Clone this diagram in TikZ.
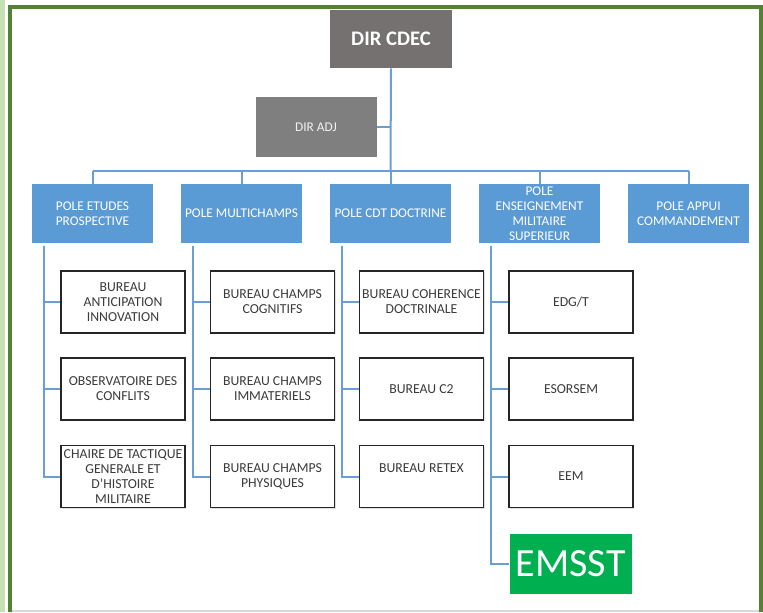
\documentclass[tikz,border=0pt]{standalone}
\usepackage{fontspec}
\setmainfont{Carlito}
\usepackage{tikz}
\usetikzlibrary{positioning,calc,shadows}

\definecolor{dirgray}{HTML}{767171}
\definecolor{adjgray}{HTML}{7F7F7F}
\definecolor{poleblue}{HTML}{5B9BD5}
\definecolor{linkblue}{HTML}{6A9FD6}
\definecolor{emsgreen}{HTML}{00B050}
\definecolor{framegreen}{HTML}{548235}
\definecolor{palegreen}{HTML}{C5E0B4}
\definecolor{subtext}{HTML}{3B3B3B}

\begin{document}
\begin{tikzpicture}[
  x=0.75pt, y=-0.75pt,
  dirbox/.style={fill=dirgray, text=white, minimum width=91.5pt, minimum height=43.5pt, inner sep=0pt, font=\fontsize{15.5}{18}\selectfont\bfseries},
  adjbox/.style={fill=adjgray, text=white!95!black, minimum width=90.75pt, minimum height=45pt, inner sep=0pt, font=\fontsize{10}{11.25}\selectfont},
  pole/.style={fill=poleblue, text=white, minimum width=90.75pt, minimum height=44.25pt, inner sep=0pt, align=center, font=\fontsize{10}{11.25}\selectfont},
  sub/.style={draw=black!85, line width=1pt, fill=white, text=subtext, minimum width=93pt, minimum height=46.5pt, inner sep=0pt, align=center, font=\fontsize{10.3}{11.25}\selectfont, drop shadow={shadow xshift=0.8pt, shadow yshift=-0.8pt, opacity=0.25}},
  emsbox/.style={fill=emsgreen, text=white, minimum width=91.5pt, minimum height=45pt, inner sep=0pt, font=\fontsize{30}{32}\selectfont},
  link/.style={draw=linkblue, line width=1.5pt}
]
\useasboundingbox (0,0) rectangle (763,612);

% frame
\fill[palegreen] (0,0) rectangle (4.5,612);
\fill[framegreen] (7.5,5) rectangle (11.5,612);
\fill[framegreen] (7.5,4.5) rectangle (763,8.5);
\fill[framegreen] (759,4.5) rectangle (763,612);
\fill[black!15] (11.5,609.5) rectangle (759,612);

% direction
\node[dirbox] (dir) at (391,39) {DIR CDEC};
\node[adjbox] (adj) at (316,127) {DIR ADJ};

% poles
\node[pole] (pe) at (92.5,213.5) {POLE ETUDES\\PROSPECTIVE};
\node[pole] (pm) at (241.5,213.5) {POLE MULTICHAMPS};
\node[pole] (pc) at (390.5,213.5) {POLE CDT DOCTRINE};
\node[pole] (ps) at (539.5,213.5) {POLE\\ENSEIGNEMENT\\MILITAIRE\\SUPERIEUR};
\node[pole] (pa) at (688.5,213.5) {POLE APPUI\\COMMANDEMENT};

% bureaux
\node[sub] (pe1) at (123,302) {BUREAU\\ANTICIPATION\\INNOVATION};
\node[sub] (pe2) at (123,389) {OBSERVATOIRE DES\\CONFLITS};
\node[sub] (pe3) at (123,476.5) {CHAIRE DE TACTIQUE\\GENERALE ET\\D’HISTOIRE\\MILITAIRE};

\node[sub] (pm1) at (272.5,302) {BUREAU CHAMPS\\COGNITIFS};
\node[sub] (pm2) at (272.5,389) {BUREAU CHAMPS\\IMMATERIELS};
\node[sub] (pm3) at (272.5,476.5) {BUREAU CHAMPS\\PHYSIQUES};

\node[sub] (pc1) at (421.5,302) {BUREAU COHERENCE\\DOCTRINALE};
\node[sub] (pc2) at (421.5,389) {BUREAU C2};
\node[sub] (pc3) at (421.5,476.5) {BUREAU RETEX\\[2pt]\mbox{}};

\node[sub] (ps1) at (571,302) {EDG/T};
\node[sub] (ps2) at (571,389) {ESORSEM};
\node[sub] (ps3) at (571,476.5) {EEM};
\node[emsbox] (ps4) at (570.7,563.5) {EMSST};

% links
\coordinate (bus) at (390.5,171);
\draw[link] (dir.south) -- (bus);
\draw[link] (adj.east) -- (adj.east -| bus);
\draw[link] (pe.north |- bus) -- (pa.north |- bus);
\draw[link] (pe.north |- bus) -- (pe.north);
\draw[link] (pm.north |- bus) -- (pm.north);
\draw[link] (pc.north |- bus) -- (pc.north);
\draw[link] (ps.north |- bus) -- (ps.north);
\draw[link] (pa.north |- bus) -- (pa.north);

\coordinate (pet) at ($(pe.south)+(-49,3)$);
\coordinate (pmt) at ($(pm.south)+(-49,3)$);
\coordinate (pct) at ($(pc.south)+(-49,3)$);
\coordinate (pst) at ($(ps.south)+(-49,3)$);

\draw[link] (pet) |- (pe3.west);
\draw[link] (pet |- pe1.west) -- (pe1.west);
\draw[link] (pet |- pe2.west) -- (pe2.west);

\draw[link] (pmt) |- (pm3.west);
\draw[link] (pmt |- pm1.west) -- (pm1.west);
\draw[link] (pmt |- pm2.west) -- (pm2.west);

\draw[link] (pct) |- (pc3.west);
\draw[link] (pct |- pc1.west) -- (pc1.west);
\draw[link] (pct |- pc2.west) -- (pc2.west);

\draw[link] (pst) |- (ps4.west);
\draw[link] (pst |- ps1.west) -- (ps1.west);
\draw[link] (pst |- ps2.west) -- (ps2.west);
\draw[link] (pst |- ps3.west) -- (ps3.west);
\end{tikzpicture}
\end{document}
